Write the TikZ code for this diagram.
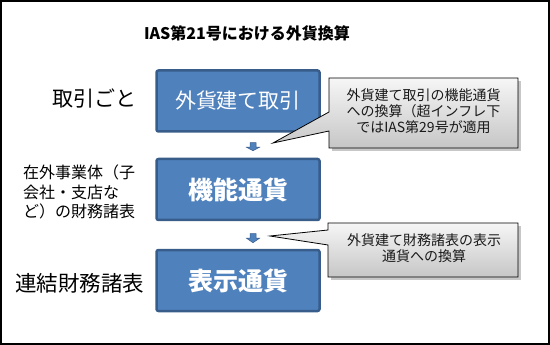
\documentclass[tikz,border=0pt]{standalone}
\usepackage{fontspec}
\setmainfont{Noto Sans CJK JP}
\usetikzlibrary{calc}
\definecolor{boxblue}{HTML}{4F81BD}
\definecolor{boxedge}{HTML}{385D8A}
\definecolor{calltop}{HTML}{F6F6F6}
\definecolor{callbot}{HTML}{C6C6C6}
\newcommand\downblk[2]{%
  \path[arrowblk] let \p1=(#1), \p2=(#2) in
    (\x1-3pt,\y1) -- (\x1+3pt,\y1) -- (\x1+3pt,\y1-4.5pt) -- (\x1+6.5pt,\y1-4.5pt)
    -- (\x1,\y2) -- (\x1-6.5pt,\y1-4.5pt) -- (\x1-3pt,\y1-4.5pt) -- cycle;}
\begin{document}
\begin{tikzpicture}[x=1pt,y=-1pt,
  curbox/.style={draw=boxedge, line width=2.5pt, fill=boxblue, rounded corners=2pt,
    minimum width=163pt, minimum height=61pt, text=white, inner sep=0pt},
  arrowblk/.style={fill=boxblue, draw=boxedge, line width=0.5pt},
  callshape/.style={top color=calltop, bottom color=callbot, draw=black, line width=0.8pt},
  callshadow/.style={fill=black!40, opacity=0.55},
  calltext/.style={align=center, font=\fontsize{14}{16}\selectfont, text=black!90, inner sep=0pt},
  lbl/.style={inner sep=0pt, text=black}]
\useasboundingbox (0,0) rectangle (550,345);
\draw[line width=2pt] (1,1) rectangle (549,344);

% title
\node[font=\fontsize{16}{19}\selectfont\bfseries] (title) at (247,33) {IAS第21号における外貨換算};

% boxes
\node[curbox, font=\fontsize{21}{24}\selectfont] (b1) at (238,101) {外貨建て取引};
\node[curbox, font=\fontsize{25}{28}\selectfont\bfseries] (b2) at (238,189.5) {機能通貨};
\node[curbox, font=\fontsize{25}{28}\selectfont\bfseries] (b3) at (238,280.5) {表示通貨};

% arrows
\coordinate (a1t) at ($(b1.south)+(15,10)$);
\coordinate (a1b) at ($(b2.north)+(15,-7)$);
\coordinate (a2t) at ($(b2.south)+(15,12.5)$);
\coordinate (a2b) at ($(b3.north)+(15,-6)$);
\downblk{a1t}{a1b}
\downblk{a2t}{a2b}

% left labels
\node[lbl, font=\fontsize{21}{24}\selectfont] (l1) at (94.5,98) {取引ごと};
\node[lbl, font=\fontsize{16}{19.5}\selectfont, align=left, anchor=west] (l2) at (23,192) {在外事業体（子\\会社・支店な\\ど）の財務諸表};
\node[lbl, font=\fontsize{21.5}{24}\selectfont] (l3) at (80,283) {連結財務諸表};

% callout 1
\fill[callshadow] (332,81) -- (521,81) -- (521,151) -- (332,151) -- cycle;
\path[callshape] (329,78) -- (518,78) -- (518,148) -- (329,148) -- (329,131) -- (273,143) -- (329,112) -- cycle;
\node[calltext] (c1) at (423.5,111) {外貨建て取引の機能通貨\\への換算（超インフレ下\\ではIAS第29号が適用};

% callout 2
\fill[callshadow] (331,226) -- (521,226) -- (521,280) -- (331,280) -- cycle;
\path[callshape] (328,223) -- (518,223) -- (518,277) -- (328,277) -- (328,245) -- (270,236) -- (328,230) -- cycle;
\node[calltext] (c2) at (424,248) {外貨建て財務諸表の表示\\通貨への換算};
\end{tikzpicture}
\end{document}
